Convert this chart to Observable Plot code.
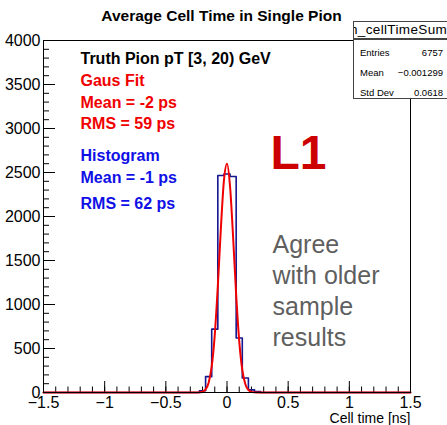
<!DOCTYPE html>
<html><head><meta charset="utf-8">
<script src="https://cdn.jsdelivr.net/npm/d3@7"></script>
<script src="https://cdn.jsdelivr.net/npm/@observablehq/plot@0.6"></script>
<style>
body{margin:0;background:#fff;font-family:"Liberation Sans",Arial,Helvetica,sans-serif;}
#wrap{position:relative;width:447px;height:425px;overflow:hidden;background:#fff;}
#title{position:absolute;left:-2px;top:7px;width:447px;text-align:center;font-weight:bold;font-size:15.5px;line-height:17px;color:#000;}
#chart{position:absolute;left:0;top:28px;}
#stTitle{position:absolute;left:353px;top:21px;width:110px;height:16px;border:1px solid #444;background:#fff;overflow:hidden;font-size:13.5px;letter-spacing:0.35px;line-height:16px;white-space:nowrap;}
#stTitle span{position:absolute;left:-4px;top:0;}
#stBody{position:absolute;left:353px;top:39px;width:110px;height:58px;border:1px solid #444;background:#fff;font-size:9.5px;}
.row{position:absolute;left:6px;width:83px;height:12px;line-height:12px;}
.row .l{position:absolute;left:0;}
.row .v{position:absolute;right:0;}
</style>
</head><body>
<div id="wrap">
  <div id="title">Average Cell Time in Single Pion</div>
  <div id="chart"></div>
  <div id="stTitle"><span>h_cellTimeSum</span></div>
  <div id="stBody"></div>
</div>
<script>
// ---- data ----
const binCenters = [-0.2, -0.15, -0.1, -0.05, 0, 0.05, 0.1, 0.15, 0.2, 0.25];
const binCounts  = [20, 180, 720, 2466, 2483, 2455, 620, 165, 30, 10];
const binWidth = 0.05;
const fitX = [-1.5, -0.25, -0.225, -0.2, -0.175, -0.15, -0.125, -0.1, -0.075, -0.05, -0.025, 0,
              0.025, 0.05, 0.075, 0.1, 0.125, 0.15, 0.175, 0.2, 0.225, 0.25, 1.5];
const fitY = [0, 0, 2, 9, 35, 112, 296, 655, 1210, 1867, 2410, 2600,
              2341, 1764, 1109, 584, 256, 94, 29, 7, 2, 0, 0];
const xTicks = [-1.5, -1, -0.5, 0, 0.5, 1, 1.5];
const xTickLabels = ["\u22121.5", "\u22121", "\u22120.5", "0", "0.5", "1", "1.5"];
const yTicks = [0, 500, 1000, 1500, 2000, 2500, 3000, 3500, 4000];
const yTickLabels = ["0", "500", "1000", "1500", "2000", "2500", "3000", "3500", "4000"];
const xDomain = [-1.5, 1.5];
const yDomain = [0, 4000];
const statLabels = ["Entries", "Mean", "Std Dev"];
const statValues = ["6757", "\u22120.001299", "0.0618"];

// ---- derived tables ----
const hist = [{x: xDomain[0], y: 0}];
binCenters.forEach((c, i) => hist.push({x: c - binWidth / 2, y: binCounts[i]}));
hist.push({x: binCenters[binCenters.length - 1] + binWidth / 2, y: 0});
hist.push({x: xDomain[1], y: 0});
const fit = fitX.map((x, i) => ({x, y: fitY[i]}));
const xMinor = d3.range(-15, 16).map(d => d / 10);
const yMinor = d3.range(0, 41).map(d => d * 100);

const W = 447, H = 397, mL = 43, mR = 37, mT = 12, mB = 33;
const fw = W - mL - mR, fh = H - mT - mB;
const font = '"Liberation Sans", Arial, Helvetica, sans-serif';
const red = "#f00000", blue = "#1010e6";

const chart = Plot.plot({
  width: W, height: H,
  marginLeft: mL, marginRight: mR, marginTop: mT, marginBottom: mB,
  style: {fontFamily: font, fontSize: "16px", color: "#000", background: "transparent", overflow: "visible"},
  x: {domain: xDomain},
  y: {domain: yDomain},
  marks: [
    // ticks (inward)
    Plot.tickX(xMinor, {x: d => d, insetTop: fh - 5.5, stroke: "#000"}),
    Plot.tickX(xTicks, {x: d => d, insetTop: fh - 11, stroke: "#000"}),
    Plot.tickY(yMinor, {y: d => d, insetRight: fw - 6, stroke: "#000"}),
    Plot.tickY(yTicks, {y: d => d, insetRight: fw - 12, stroke: "#000"}),
    Plot.axisX({ticks: xTicks, tickSize: 0, tickPadding: 4, label: null, fontSize: 16,
                tickFormat: d => xTickLabels[xTicks.indexOf(d)]}),
    Plot.axisY({ticks: yTicks, tickSize: 0, tickPadding: 3, label: null, fontSize: 16,
                tickFormat: d => yTickLabels[yTicks.indexOf(d)]}),
    // histogram & fit
    Plot.line(hist, {x: "x", y: "y", curve: "step-after", stroke: "#16168f", strokeWidth: 1.6}),
    Plot.line(fit, {x: "x", y: "y", curve: "monotone-x", stroke: red, strokeWidth: 2}),
    Plot.frame({stroke: "#000", strokeWidth: 1}),
    // annotations
    Plot.text(["Truth Pion pT [3, 20) GeV"], {frameAnchor: "top-left", dx: 37, dy: 23, textAnchor: "start", lineAnchor: "bottom", fontWeight: "bold", fontSize: 16, fill: "#000"}),
    Plot.text(["Gaus Fit"], {frameAnchor: "top-left", dx: 37, dy: 45, textAnchor: "start", lineAnchor: "bottom", fontWeight: "bold", fontSize: 16, fill: red}),
    Plot.text(["Mean = -2 ps"], {frameAnchor: "top-left", dx: 37, dy: 67, textAnchor: "start", lineAnchor: "bottom", fontWeight: "bold", fontSize: 16, fill: red}),
    Plot.text(["RMS = 59 ps"], {frameAnchor: "top-left", dx: 37, dy: 88, textAnchor: "start", lineAnchor: "bottom", fontWeight: "bold", fontSize: 16, fill: red}),
    Plot.text(["Histogram"], {frameAnchor: "top-left", dx: 37, dy: 120, textAnchor: "start", lineAnchor: "bottom", fontWeight: "bold", fontSize: 16, fill: blue}),
    Plot.text(["Mean = -1 ps"], {frameAnchor: "top-left", dx: 37, dy: 142, textAnchor: "start", lineAnchor: "bottom", fontWeight: "bold", fontSize: 16, fill: blue}),
    Plot.text(["RMS = 62 ps"], {frameAnchor: "top-left", dx: 37, dy: 168, textAnchor: "start", lineAnchor: "bottom", fontWeight: "bold", fontSize: 16, fill: blue}),
    Plot.text(["L1"], {frameAnchor: "top-left", dx: 227, dy: 128, textAnchor: "start", lineAnchor: "bottom", fontWeight: "bold", fontSize: 48, fill: "#cc0000"}),
    Plot.text(["Agree\nwith older\nsample\nresults"], {frameAnchor: "top-left", dx: 229, dy: 190, textAnchor: "start", lineAnchor: "top", fontSize: 25, lineHeight: 1.24, fill: "#5f5f5f"}),
    Plot.text(["Cell time [ns]"], {frameAnchor: "bottom-right", dx: 0, dy: 30, textAnchor: "end", lineAnchor: "bottom", fontSize: 14, fill: "#000"})
  ]
});
document.getElementById("chart").appendChild(chart);

// stats box
const body = document.getElementById("stBody");
statLabels.forEach((l, i) => {
  const r = document.createElement("div");
  r.className = "row";
  r.style.top = (7 + i * 20) + "px";
  r.innerHTML = `<span class="l">${l}</span><span class="v">${statValues[i]}</span>`;
  body.appendChild(r);
});
</script>
</body></html>
